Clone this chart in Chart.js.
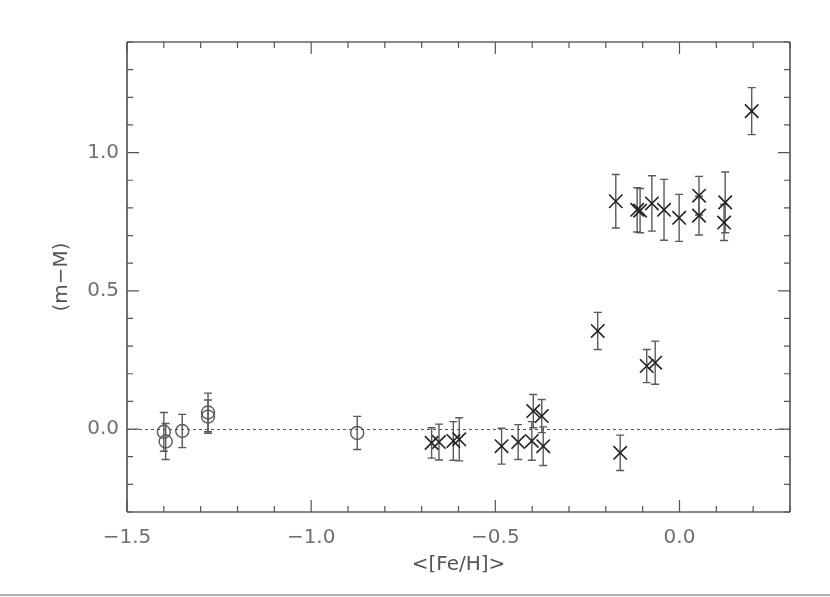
<!DOCTYPE html>
<html>
<head>
<meta charset="utf-8">
<script src="https://cdn.jsdelivr.net/npm/chart.js@4"></script>
<style>
  html, body { margin: 0; padding: 0; background: #fff; }
  #wrap { position: relative; width: 830px; height: 597px; }
</style>
</head>
<body>
<div id="wrap"><canvas id="chart" width="830" height="597"></canvas></div>
<script>
// Axis ranges and tick labels
const xRange = [-1.5, 0.3];
const yRange = [-0.3, 1.4];
const xMajorTicks = [-1.5, -1.0, -0.5, 0.0];
const yMajorTicks = [0.0, 0.5, 1.0];

// Metal-poor clusters (open circles)
const circX = [-1.40, -1.395, -1.35, -1.28, -1.28, -0.875];
const circY = [-0.01, -0.045, -0.007, 0.06, 0.045, -0.014];
const circErr = [0.07, 0.065, 0.06, 0.07, 0.06, 0.06];

// Other clusters (crosses)
const crossX = [-0.673, -0.653, -0.614, -0.598, -0.483, -0.438, -0.397, -0.374, -0.401, -0.37,
                -0.222, -0.173, -0.161, -0.115, -0.107, -0.089, -0.075, -0.066, -0.042, -0.001,
                0.053, 0.053, 0.121, 0.124, 0.196];
const crossY = [-0.05, -0.047, -0.043, -0.037, -0.062, -0.047, 0.065, 0.047, -0.043, -0.062,
                0.355, 0.824, -0.086, 0.793, 0.79, 0.228, 0.816, 0.24, 0.793, 0.764,
                0.844, 0.772, 0.747, 0.82, 1.15];
const crossErr = [0.055, 0.065, 0.07, 0.078, 0.065, 0.063, 0.06, 0.06, 0.07, 0.07,
                  0.067, 0.097, 0.064, 0.08, 0.08, 0.06, 0.1, 0.078, 0.11, 0.085,
                  0.07, 0.07, 0.065, 0.11, 0.085];

const textColor = '#707070';
const labelFont = { family: 'DejaVu Sans', size: 20 };

function fmt(v) {
    const s = Math.abs(v).toFixed(1);
    return v < -1e-9 ? '\u2212' + s : s;
}

// Error bars under the markers
const errorBars = {
    id: 'errorBars',
    beforeDatasetsDraw(chart) {
        const ctx = chart.ctx;
        const xs = chart.scales.x, ys = chart.scales.y;
        ctx.save();
        ctx.strokeStyle = '#5a5a5a';
        ctx.lineWidth = 1.4;
        chart.data.datasets.forEach(ds => {
            ds.data.forEach((p, i) => {
                const px = xs.getPixelForValue(p.x);
                const top = ys.getPixelForValue(p.y + ds.err[i]);
                const bot = ys.getPixelForValue(p.y - ds.err[i]);
                ctx.beginPath();
                ctx.moveTo(px, top); ctx.lineTo(px, bot);
                ctx.moveTo(px - 4, top); ctx.lineTo(px + 4, top);
                ctx.moveTo(px - 4, bot); ctx.lineTo(px + 4, bot);
                ctx.stroke();
            });
        });
        ctx.restore();
    }
};

// IDL-style frame: box, inward ticks on all sides, dotted zero line
const frame = {
    id: 'frame',
    beforeDatasetsDraw(chart) {
        const ctx = chart.ctx;
        const a = chart.chartArea;
        const xs = chart.scales.x, ys = chart.scales.y;
        ctx.save();
        // zero line
        ctx.strokeStyle = '#555';
        ctx.lineWidth = 1;
        ctx.setLineDash([3, 3]);
        const y0 = Math.round(ys.getPixelForValue(0)) + 0.5;
        ctx.beginPath();
        ctx.moveTo(a.left, y0); ctx.lineTo(a.right, y0);
        ctx.stroke();
        ctx.setLineDash([]);

        // top and bottom edges: lighter, thicker
        ctx.strokeStyle = '#8a8a8a';
        ctx.lineWidth = 2;
        ctx.beginPath();
        ctx.moveTo(a.left, a.top); ctx.lineTo(a.right, a.top);
        ctx.moveTo(a.left, a.bottom); ctx.lineTo(a.right, a.bottom);
        ctx.stroke();
        // left and right edges
        ctx.strokeStyle = '#444';
        ctx.lineWidth = 1.5;
        ctx.beginPath();
        ctx.moveTo(a.left, a.top); ctx.lineTo(a.left, a.bottom);
        ctx.moveTo(a.right, a.top); ctx.lineTo(a.right, a.bottom);
        ctx.stroke();

        ctx.strokeStyle = '#555';
        ctx.lineWidth = 1.2;
        ctx.beginPath();
        for (let k = -15; k <= 3; k++) {
            const px = xs.getPixelForValue(k / 10);
            const len = (k % 5 === 0) ? 12 : 6;
            ctx.moveTo(px, a.bottom); ctx.lineTo(px, a.bottom - len);
            ctx.moveTo(px, a.top); ctx.lineTo(px, a.top + len);
        }
        for (let k = -3; k <= 14; k++) {
            const py = ys.getPixelForValue(k / 10);
            const len = (k % 5 === 0) ? 12 : 6;
            ctx.moveTo(a.left, py); ctx.lineTo(a.left + len, py);
            ctx.moveTo(a.right, py); ctx.lineTo(a.right - len, py);
        }
        ctx.stroke();

        // separator line at the page bottom
        ctx.strokeStyle = '#b0b0b0';
        ctx.lineWidth = 2;
        ctx.beginPath();
        ctx.moveTo(0, 595); ctx.lineTo(chart.width, 595);
        ctx.stroke();
        ctx.restore();
    }
};

new Chart(document.getElementById('chart'), {
    type: 'scatter',
    data: {
        datasets: [
            {
                label: 'circles',
                data: circX.map((x, i) => ({ x: x, y: circY[i] })),
                err: circErr,
                pointStyle: 'circle',
                radius: 6.5,
                borderColor: '#5a5a5a',
                backgroundColor: 'rgba(0,0,0,0)',
                borderWidth: 1.4
            },
            {
                label: 'crosses',
                data: crossX.map((x, i) => ({ x: x, y: crossY[i] })),
                err: crossErr,
                pointStyle: 'crossRot',
                radius: 9.5,
                borderColor: '#222',
                backgroundColor: '#222',
                borderWidth: 1.6
            }
        ]
    },
    options: {
        responsive: false,
        animation: false,
        events: [],
        layout: { padding: { top: 42, right: 40, left: 0, bottom: 0 } },
        plugins: {
            legend: { display: false },
            tooltip: { enabled: false }
        },
        scales: {
            x: {
                type: 'linear',
                min: xRange[0],
                max: xRange[1],
                grid: { display: false, drawTicks: false },
                border: { display: false },
                afterBuildTicks: s => { s.ticks = xMajorTicks.map(v => ({ value: v })); },
                afterFit: s => { s.height = 85; },
                ticks: {
                    autoSkip: false,
                    maxRotation: 0,
                    padding: 14,
                    color: textColor,
                    font: labelFont,
                    callback: v => fmt(v)
                },
                title: {
                    display: true,
                    text: '<[Fe/H]>',
                    color: '#555',
                    font: labelFont,
                    padding: { top: 0, bottom: 20 }
                }
            },
            y: {
                type: 'linear',
                min: yRange[0],
                max: yRange[1],
                grid: { display: false, drawTicks: false },
                border: { display: false },
                afterBuildTicks: s => { s.ticks = yMajorTicks.map(v => ({ value: v })); },
                afterFit: s => { s.width = 127; },
                ticks: {
                    autoSkip: false,
                    padding: 8,
                    color: textColor,
                    font: labelFont,
                    callback: v => fmt(v)
                },
                title: {
                    display: true,
                    text: '(m\u2212M)',
                    color: '#555',
                    font: labelFont,
                    padding: { top: 50, bottom: 0 }
                }
            }
        }
    },
    plugins: [frame, errorBars]
});
</script>
</body>
</html>
